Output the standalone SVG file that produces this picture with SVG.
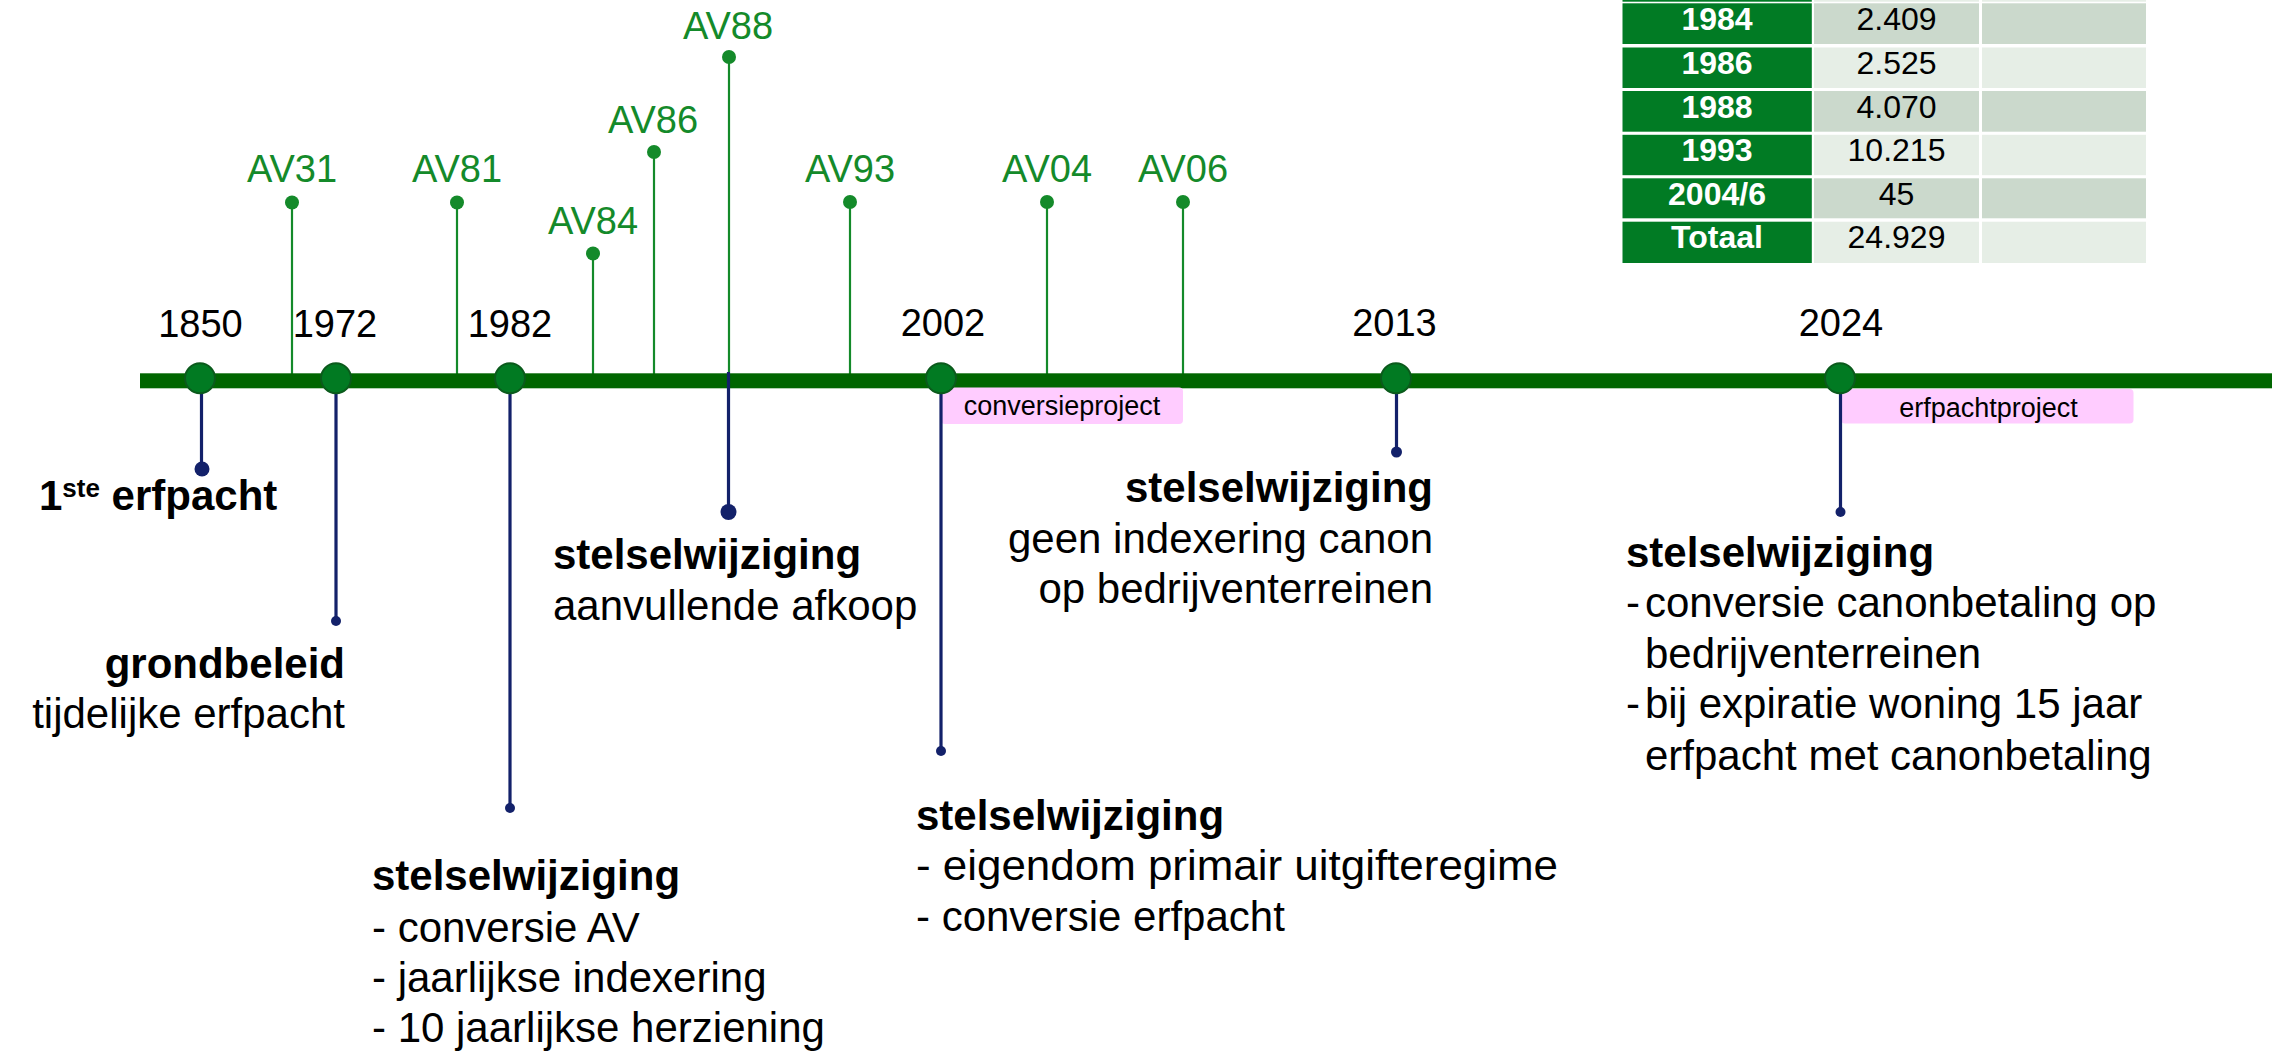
<svg xmlns="http://www.w3.org/2000/svg" width="2284" height="1052" viewBox="0 0 2284 1052">
<style>
text{font-family:"Liberation Sans",Arial,sans-serif;fill:#000}
.yr{font-size:38px;text-anchor:middle}
.av{font-size:38px;text-anchor:middle;fill:#148a2a}
.h{font-size:42px;font-weight:bold}
.t{font-size:42px}
.r{text-anchor:end}
.pk{font-size:27px;text-anchor:middle}
.tc1{font-size:32px;font-weight:bold;fill:#fff;text-anchor:middle}
.tc2{font-size:32px;text-anchor:middle}
.stem{stroke:#148a2a;stroke-width:2.2;fill:none}
.navy{stroke:#13216a;stroke-width:3.2;fill:none}
.avdot{fill:#148a2a}
.ndot{fill:#13216a}
.yc{fill:#017a22;stroke:#0b5a1c;stroke-width:2}
.g{fill:#017b24}
.dk{fill:#cbd9cc}
.lt{fill:#e6eee6}
.pink{fill:#ffccff}
</style>

<g id="table">
<rect class="g" x="1622.5" y="-40" width="189.3" height="41.7"/>
<rect class="lt" x="1814" y="-40" width="165" height="41.7"/>
<rect class="lt" x="1982" y="-40" width="164" height="41.7"/>

<rect class="g" x="1622.5" y="3.3" width="189.3" height="40.7"/>
<rect class="dk" x="1814" y="3.3" width="165" height="40.7"/>
<rect class="dk" x="1982" y="3.3" width="164" height="40.7"/>
<text class="tc1" x="1717" y="30">1984</text>
<text class="tc2" x="1896.5" y="30">2.409</text>

<rect class="g" x="1622.5" y="47.5" width="189.3" height="40.5"/>
<rect class="lt" x="1814" y="47.5" width="165" height="40.5"/>
<rect class="lt" x="1982" y="47.5" width="164" height="40.5"/>
<text class="tc1" x="1717" y="74">1986</text>
<text class="tc2" x="1896.5" y="74">2.525</text>

<rect class="g" x="1622.5" y="91" width="189.3" height="40.7"/>
<rect class="dk" x="1814" y="91" width="165" height="40.7"/>
<rect class="dk" x="1982" y="91" width="164" height="40.7"/>
<text class="tc1" x="1717" y="117.5">1988</text>
<text class="tc2" x="1896.5" y="117.5">4.070</text>

<rect class="g" x="1622.5" y="134.8" width="189.3" height="40.4"/>
<rect class="lt" x="1814" y="134.8" width="165" height="40.4"/>
<rect class="lt" x="1982" y="134.8" width="164" height="40.4"/>
<text class="tc1" x="1717" y="161.3">1993</text>
<text class="tc2" x="1896.5" y="161.3">10.215</text>

<rect class="g" x="1622.5" y="178.3" width="189.3" height="40"/>
<rect class="dk" x="1814" y="178.3" width="165" height="40"/>
<rect class="dk" x="1982" y="178.3" width="164" height="40"/>
<text class="tc1" x="1717" y="204.8">2004/6</text>
<text class="tc2" x="1896.5" y="204.8">45</text>

<rect class="g" x="1622.5" y="221.7" width="189.3" height="41.3"/>
<rect class="lt" x="1814" y="221.7" width="165" height="41.3"/>
<rect class="lt" x="1982" y="221.7" width="164" height="41.3"/>
<text class="tc1" x="1717" y="248.3">Totaal</text>
<text class="tc2" x="1896.5" y="248.3">24.929</text>
</g>

<g id="connectors">
<line class="stem" x1="292" y1="202" x2="292" y2="374"/>
<line class="stem" x1="457" y1="202" x2="457" y2="374"/>
<line class="stem" x1="593" y1="253" x2="593" y2="374"/>
<line class="stem" x1="654" y1="152" x2="654" y2="374"/>
<line class="stem" x1="729" y1="57" x2="729" y2="372"/>
<line class="stem" x1="850" y1="202" x2="850" y2="374"/>
<line class="stem" x1="1047" y1="202" x2="1047" y2="374"/>
<line class="stem" x1="1183" y1="202" x2="1183" y2="374"/>
</g>

<g id="timeline">
<rect x="140" y="373.3" width="2132" height="15" fill="#006600"/>
</g>

<g id="labels-pink">
<rect class="pink" x="941" y="387.5" width="242" height="36.5" rx="4"/>
<text class="pk" x="1062" y="415">conversieproject</text>
<rect class="pink" x="1841" y="389" width="292.5" height="34.5" rx="4"/>
<text class="pk" x="1988.5" y="416.5">erfpachtproject</text>
</g>

<g id="connectors-down">
<line class="navy" x1="201.5" y1="380" x2="201.5" y2="469"/>
<line class="navy" x1="336" y1="380" x2="336" y2="621"/>
<line class="navy" x1="510" y1="380" x2="510" y2="808"/>
<line class="navy" x1="728.5" y1="372" x2="728.5" y2="512"/>
<line class="navy" x1="941" y1="380" x2="941" y2="751"/>
<line class="navy" x1="1396.5" y1="380" x2="1396.5" y2="452"/>
<line class="navy" x1="1840.5" y1="380" x2="1840.5" y2="512"/>
</g>

<g id="av-markers">
<circle class="avdot" cx="292" cy="202.5" r="7"/><text class="av" x="292" y="182">AV31</text>
<circle class="avdot" cx="457" cy="202.5" r="7"/><text class="av" x="457" y="182">AV81</text>
<circle class="avdot" cx="593" cy="253.5" r="7"/><text class="av" x="593" y="234">AV84</text>
<circle class="avdot" cx="654" cy="152" r="7"/><text class="av" x="653" y="133">AV86</text>
<circle class="avdot" cx="729" cy="57" r="7"/><text class="av" x="728" y="38.5">AV88</text>
<circle class="avdot" cx="850" cy="202" r="7"/><text class="av" x="850" y="181.5">AV93</text>
<circle class="avdot" cx="1047" cy="202" r="7"/><text class="av" x="1047" y="181.5">AV04</text>
<circle class="avdot" cx="1183" cy="202" r="7"/><text class="av" x="1183" y="181.5">AV06</text>
</g>

<g id="node-1850">
<circle class="yc" cx="200" cy="378.3" r="15"/>
<text class="yr" x="200.5" y="337">1850</text>
<circle class="ndot" cx="202" cy="469" r="7.5"/>
<text class="h" x="39" y="510">1<tspan font-size="26" dy="-13">ste</tspan><tspan dy="13"> erfpacht</tspan></text>
</g>

<g id="node-1972">
<circle class="yc" cx="336" cy="378.3" r="15"/>
<text class="yr" x="335" y="337">1972</text>
<circle class="ndot" cx="336" cy="621" r="5"/>
<text class="h r" x="345" y="678">grondbeleid</text>
<text class="t r" x="345" y="728">tijdelijke erfpacht</text>
</g>

<g id="node-1982">
<circle class="yc" cx="510" cy="378.3" r="15"/>
<text class="yr" x="510" y="337">1982</text>
<circle class="ndot" cx="510" cy="808" r="5"/>
<text class="h" x="372" y="890">stelselwijziging</text>
<text class="t" x="372" y="942">- conversie AV</text>
<text class="t" x="372" y="992">- jaarlijkse indexering</text>
<text class="t" x="372" y="1042">- 10 jaarlijkse herziening</text>
</g>

<g id="node-av88">
<circle class="ndot" cx="728.5" cy="512" r="8"/>
<text class="h" x="553" y="569">stelselwijziging</text>
<text class="t" x="553" y="620">aanvullende afkoop</text>
</g>

<g id="node-2002">
<circle class="yc" cx="941" cy="378.3" r="15"/>
<text class="yr" x="943" y="336">2002</text>
<circle class="ndot" cx="941" cy="751" r="5"/>
<text class="h" x="916" y="830">stelselwijziging</text>
<text class="t" x="916" y="880" textLength="642" lengthAdjust="spacingAndGlyphs">- eigendom primair uitgifteregime</text>
<text class="t" x="916" y="931">- conversie erfpacht</text>
</g>

<g id="node-2013">
<circle class="yc" cx="1396" cy="378.3" r="15"/>
<text class="yr" x="1394.5" y="336">2013</text>
<circle class="ndot" cx="1396.5" cy="452" r="5.5"/>
<text class="h r" x="1433" y="502">stelselwijziging</text>
<text class="t r" x="1433" y="553">geen indexering canon</text>
<text class="t r" x="1433" y="603">op bedrijventerreinen</text>
</g>

<g id="node-2024">
<circle class="yc" cx="1840" cy="378.3" r="15"/>
<text class="yr" x="1841" y="336">2024</text>
<circle class="ndot" cx="1840.5" cy="512" r="5"/>
<text class="h" x="1626" y="567">stelselwijziging</text>
<text class="t" x="1626" y="617">-</text>
<text class="t" x="1645" y="617">conversie canonbetaling op</text>
<text class="t" x="1645" y="668">bedrijventerreinen</text>
<text class="t" x="1626" y="718">-</text>
<text class="t" x="1645" y="718">bij expiratie woning 15 jaar</text>
<text class="t" x="1645" y="770">erfpacht met canonbetaling</text>
</g>
</svg>
